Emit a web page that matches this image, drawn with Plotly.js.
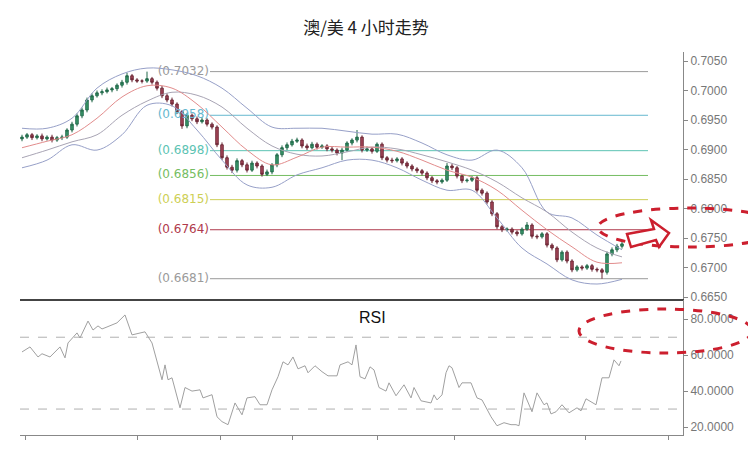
<!DOCTYPE html>
<html>
<head>
<meta charset="utf-8">
<script src="https://cdn.plot.ly/plotly-3.0.1.min.js"></script>
<style>html,body{margin:0;padding:0;background:#fff;}#chart{width:748px;height:449px;}</style>
</head>
<body>
<div id="chart"></div>
<script>
// ---------------- data ----------------
const titleText = "澳/美 4 小时走势";

const opens = [0.6918,0.6921,0.6925,0.6920,0.6923,0.6918,0.6921,0.6916,0.6920,0.6921,
 0.6933,0.6943,0.6957,0.6967,0.6984,0.6991,0.6996,0.6998,0.7001,0.7003,
 0.7009,0.7014,0.7025,0.7018,0.7016,0.7016,0.7020,0.7014,0.7004,0.6991,
 0.6984,0.6977,0.6964,0.6940,0.6958,0.6952,0.6947,0.6950,0.6943,0.6938,
 0.6908,0.6886,0.6870,0.6865,0.6881,0.6874,0.6865,0.6877,0.6872,0.6858,
 0.6862,0.6874,0.6891,0.6903,0.6908,0.6914,0.6916,0.6906,0.6903,0.6909,
 0.6904,0.6906,0.6901,0.6899,0.6894,0.6899,0.6911,0.6916,0.6921,0.6899,
 0.6901,0.6897,0.6909,0.6886,0.6882,0.6881,0.6884,0.6877,0.6872,0.6867,
 0.6864,0.6860,0.6852,0.6847,0.6845,0.6848,0.6872,0.6869,0.6855,0.6847,
 0.6848,0.6852,0.6831,0.6826,0.6811,0.6791,0.6769,0.6764,0.6765,0.6760,
 0.6757,0.6765,0.6772,0.6753,0.6752,0.6757,0.6738,0.6733,0.6713,0.6726,
 0.6711,0.6696,0.6701,0.6699,0.6703,0.6697,0.6696,0.6692,0.6723,0.6730,
 0.6736];
const highs = [0.6925,0.6928,0.6928,0.6926,0.6927,0.6924,0.6925,0.6923,0.6925,0.6936,
 0.6947,0.6961,0.6971,0.6988,0.6995,0.7000,0.7002,0.7005,0.7006,0.7012,
 0.7018,0.7030,0.7028,0.7021,0.7019,0.7032,0.7023,0.7017,0.7008,0.6995,
 0.6988,0.6980,0.6967,0.6962,0.6961,0.6956,0.6954,0.6953,0.6946,0.6941,
 0.6912,0.6890,0.6874,0.6885,0.6884,0.6878,0.6881,0.6880,0.6875,0.6866,
 0.6877,0.6894,0.6907,0.6912,0.6918,0.6920,0.6919,0.6910,0.6913,0.6912,
 0.6909,0.6909,0.6905,0.6902,0.6903,0.6914,0.6919,0.6933,0.6924,0.6905,
 0.6904,0.6912,0.6912,0.6889,0.6886,0.6887,0.6887,0.6880,0.6875,0.6870,
 0.6867,0.6863,0.6855,0.6850,0.6851,0.6877,0.6876,0.6872,0.6858,0.6851,
 0.6855,0.6855,0.6834,0.6829,0.6814,0.6794,0.6772,0.6768,0.6768,0.6763,
 0.6768,0.6777,0.6775,0.6756,0.6760,0.6760,0.6741,0.6736,0.6729,0.6729,
 0.6714,0.6704,0.6704,0.6706,0.6706,0.6700,0.6699,0.6727,0.6734,0.6740,
 0.6744];
const lows = [0.6914,0.6918,0.6916,0.6917,0.6914,0.6915,0.6912,0.6913,0.6916,0.6918,
 0.6929,0.6939,0.6953,0.6963,0.6980,0.6988,0.6992,0.6995,0.6997,0.6999,
 0.7005,0.7010,0.7014,0.7013,0.7012,0.7013,0.7010,0.7000,0.6987,0.6980,
 0.6973,0.6960,0.6935,0.6936,0.6948,0.6943,0.6944,0.6939,0.6934,0.6904,
 0.6882,0.6866,0.6860,0.6861,0.6870,0.6861,0.6862,0.6868,0.6854,0.6855,
 0.6858,0.6870,0.6887,0.6899,0.6905,0.6911,0.6902,0.6899,0.6900,0.6900,
 0.6901,0.6897,0.6895,0.6890,0.6882,0.6896,0.6907,0.6912,0.6895,0.6896,
 0.6893,0.6894,0.6882,0.6878,0.6877,0.6878,0.6873,0.6868,0.6863,0.6860,
 0.6856,0.6848,0.6843,0.6841,0.6842,0.6845,0.6865,0.6851,0.6843,0.6844,
 0.6845,0.6827,0.6822,0.6807,0.6787,0.6765,0.6760,0.6761,0.6756,0.6753,
 0.6754,0.6762,0.6749,0.6748,0.6749,0.6734,0.6729,0.6709,0.6710,0.6707,
 0.6692,0.6693,0.6695,0.6696,0.6693,0.6692,0.6681,0.6688,0.6719,0.6726,
 0.6732];
const closes = [0.6921,0.6925,0.6920,0.6923,0.6918,0.6921,0.6916,0.6920,0.6921,0.6933,
 0.6943,0.6957,0.6967,0.6984,0.6991,0.6996,0.6998,0.7001,0.7003,0.7009,
 0.7014,0.7025,0.7018,0.7016,0.7016,0.7020,0.7014,0.7004,0.6991,0.6984,
 0.6977,0.6964,0.6940,0.6958,0.6952,0.6947,0.6950,0.6943,0.6938,0.6908,
 0.6886,0.6870,0.6865,0.6881,0.6874,0.6865,0.6877,0.6872,0.6858,0.6862,
 0.6874,0.6891,0.6903,0.6908,0.6914,0.6916,0.6906,0.6903,0.6909,0.6904,
 0.6906,0.6901,0.6899,0.6894,0.6899,0.6911,0.6916,0.6921,0.6899,0.6901,
 0.6897,0.6909,0.6886,0.6882,0.6881,0.6884,0.6877,0.6872,0.6867,0.6864,
 0.6860,0.6852,0.6847,0.6845,0.6848,0.6872,0.6869,0.6855,0.6847,0.6848,
 0.6852,0.6831,0.6826,0.6811,0.6791,0.6769,0.6764,0.6765,0.6760,0.6757,
 0.6765,0.6772,0.6753,0.6752,0.6757,0.6738,0.6733,0.6713,0.6726,0.6711,
 0.6696,0.6701,0.6699,0.6703,0.6697,0.6696,0.6692,0.6723,0.6730,0.6736,
 0.6740];

// indicator lines, read at every 5th bar
const bandIdx   = [0,5,10,15,20,25,30,35,40,45,50,55,60,65,70,75,80,85,90,95,100,105,110,115,120];
const bandUpper = [0.6936,0.6936,0.6953,0.7004,0.7028,0.7038,0.7035,0.7025,0.7004,0.6970,0.6938,0.6936,0.6936,0.6931,0.6926,0.6926,0.6911,0.6891,0.6882,0.6899,0.6869,0.6794,0.6784,0.6755,0.6730];
const bandMid   = [0.6903,0.6914,0.6925,0.6953,0.6989,0.7008,0.7004,0.6977,0.6938,0.6899,0.6874,0.6887,0.6904,0.6904,0.6904,0.6897,0.6882,0.6865,0.6853,0.6831,0.6797,0.6764,0.6735,0.6709,0.6708];
const maSlow    = [0.6886,0.6899,0.6913,0.6925,0.6958,0.6982,0.6997,0.6992,0.6972,0.6936,0.6906,0.6892,0.6889,0.6896,0.6904,0.6901,0.6891,0.6879,0.6865,0.6845,0.6818,0.6794,0.6760,0.6733,0.6718];
const bandLower = [0.6869,0.6882,0.6908,0.6899,0.6925,0.6975,0.6974,0.6933,0.6882,0.6840,0.6836,0.6857,0.6869,0.6882,0.6882,0.6869,0.6848,0.6831,0.6831,0.6784,0.6733,0.6706,0.6679,0.6672,0.6680];

// Fibonacci levels
const fibLevels = [0.7032, 0.6958, 0.6898, 0.6856, 0.6815, 0.6764, 0.6681];
const fibLabels = ["(0.7032)", "(0.6958)", "(0.6898)", "(0.6856)", "(0.6815)", "(0.6764)", "(0.6681)"];
const fibColors = ["#9a9a9a", "#66b8cf", "#5cc3b3", "#74bd62", "#cdcf55", "#b03a4c", "#9a9a9a"];

// RSI
const rsiX = [0,1.6,3.2,4,5.6,6.6,7.6,8.6,9.2,11,11.6,13.2,14.2,15.2,16,17,19,20.6,22,24.6,26,28,28.6,29.2,30,31.6,32.6,34,35.6,36.2,38,39,40,41.2,42.6,44,45,46.6,47.6,49,50,51.2,52.2,53.2,54.2,55.2,56.6,57.2,58.6,60,61.2,63,63.6,65.2,66,66.8,67.6,68.6,69.6,70.4,71.4,72.8,73.4,74.8,76.4,77.8,78.4,79.8,81,81.8,82.4,83,84,84.8,85.4,86,87.4,88,89.8,90.4,91,92,93.8,95,96.4,97.8,98.8,99.4,100.4,102,103,104.4,105,105.8,106.8,108,109.4,111,111.8,112.8,114.8,116,117.4,118.4,119.4,119.8];
const rsiY = [61.8,64.6,59,60.8,59,61.8,64.6,58.5,66.8,72.4,69.6,79,74,76.3,74.6,75.7,78,82.4,71.3,73,66.8,46.3,54.6,46.3,47.4,30.7,42,40,40.7,36.2,38,25.7,23,21.3,33.4,26.8,36.2,36.9,32.4,32.4,40.7,48,56.3,54.6,59,52.4,54.1,50.2,54.1,50.8,48.5,48.5,54.6,56.3,54.6,65.7,48,46.8,53.5,51.8,42,40,44.6,37.4,43.5,36.2,42,34.6,34,33.4,37.9,35.1,37.9,50.2,54.1,53,42,44.6,44.6,40.7,36.2,35.1,25.7,20.7,22.4,21.3,21.3,20.7,39,28.5,39,32.4,33.4,27.3,28.5,32.4,27.9,30.7,29,35.7,32.4,47.4,47.4,57.4,54.1,56.8];
const rsiLevels = [30, 70];
const priceTicks = [0.6650, 0.6700, 0.6750, 0.6800, 0.6850, 0.6900, 0.6950, 0.7000, 0.7050];
const rsiTicks = [20, 40, 60, 80];
const timeTicks = [0.6, 23, 39.6, 54, 71, 86.4, 112.6, 129.2];

// ---------------- layout helpers ----------------
const W = 748, H = 449;
const L = 20, R = 683, T = 52, B = 435;
const px = x => (x - L) / (R - L);
const py = y => (B - y) / (B - T);
const bars = opens.map((_, i) => i);
const barAtPx = x => (x - 22) / 5;

const traces = [
  { type: 'scatter', mode: 'text', x: fibLevels.map(() => barAtPx(209)), y: fibLevels,
    text: fibLabels, textposition: 'middle left',
    textfont: { family: 'DejaVu Sans, sans-serif', size: 12, color: fibColors },
    hoverinfo: 'skip', showlegend: false, xaxis: 'x', yaxis: 'y' },
  { type: 'scatter', mode: 'lines', x: bandIdx, y: bandUpper, line: { color: '#97a0c8', width: 1, shape: 'spline', smoothing: 1 }, xaxis: 'x', yaxis: 'y', showlegend: false },
  { type: 'scatter', mode: 'lines', x: bandIdx, y: bandLower, line: { color: '#97a0c8', width: 1, shape: 'spline', smoothing: 1 }, xaxis: 'x', yaxis: 'y', showlegend: false },
  { type: 'scatter', mode: 'lines', x: bandIdx, y: maSlow, line: { color: '#a8a4b4', width: 1, shape: 'spline', smoothing: 1 }, xaxis: 'x', yaxis: 'y', showlegend: false },
  { type: 'scatter', mode: 'lines', x: bandIdx, y: bandMid, line: { color: '#e28c8c', width: 1, shape: 'spline', smoothing: 1 }, xaxis: 'x', yaxis: 'y', showlegend: false },
  { type: 'candlestick', x: bars, open: opens, high: highs, low: lows, close: closes,
    increasing: { line: { color: '#22694a', width: 1 }, fillcolor: '#3a9a6c' },
    decreasing: { line: { color: '#6a2634', width: 1 }, fillcolor: '#a8485a' },
    whiskerwidth: 0, xaxis: 'x', yaxis: 'y', showlegend: false },
  { type: 'scatter', mode: 'lines', x: rsiX, y: rsiY, line: { color: '#a0a0a0', width: 1 }, xaxis: 'x2', yaxis: 'y2', showlegend: false }
];

const shapes = [];
fibLevels.forEach((lv, i) => {
  shapes.push({ type: 'line', xref: 'paper', yref: 'y', x0: px(210), x1: px(648), y0: lv, y1: lv,
    line: { color: fibColors[i], width: 1 }, layer: 'below' });
});
rsiLevels.forEach(lv => {
  shapes.push({ type: 'line', xref: 'paper', yref: 'y2', x0: 0, x1: 1, y0: lv, y1: lv,
    line: { color: '#b0b0b0', width: 1, dash: 'dash' }, layer: 'below' });
});
const red = '#cc1f2e';
shapes.push({ type: 'circle', xref: 'paper', yref: 'paper', x0: px(598), x1: px(782), y0: py(208), y1: py(247),
  line: { color: red, width: 3, dash: 'dash' } });
shapes.push({ type: 'circle', xref: 'paper', yref: 'paper', x0: px(579), x1: px(752), y0: py(309), y1: py(353),
  line: { color: red, width: 3, dash: 'dash' } });
const arrowPts = [[627,234],[654,229],[651,220],[669,233],[659,247],[656,240],[631,247]];
shapes.push({ type: 'path', xref: 'paper', yref: 'paper',
  path: 'M ' + arrowPts.map(p => px(p[0]) + ',' + py(p[1])).join(' L ') + ' Z',
  line: { color: red, width: 2.5 }, fillcolor: '#ffffff' });

const axisCommon = { showgrid: false, zeroline: false };
const layout = {
  width: W, height: H,
  margin: { l: L, r: W - R, t: T, b: H - B, pad: 0 },
  paper_bgcolor: '#ffffff', plot_bgcolor: '#ffffff',
  font: { family: 'Liberation Sans, Arial, sans-serif', color: '#777' },
  showlegend: false,
  title: { text: titleText, x: 366 / W, xanchor: 'center', y: 1 - 28 / H, yanchor: 'middle',
    font: { family: 'Noto Sans CJK SC, sans-serif', size: 17, color: '#222' } },
  xaxis: Object.assign({}, axisCommon, { domain: [0, 1], anchor: 'y', range: [barAtPx(L), barAtPx(R)],
    showline: true, linecolor: '#444', linewidth: 1.5, showticklabels: false, ticks: '',
    rangeslider: { visible: false } }),
  xaxis2: Object.assign({}, axisCommon, { domain: [0, 1], anchor: 'y2', range: [barAtPx(L), barAtPx(R)],
    showline: true, linecolor: '#888', linewidth: 1, ticks: 'outside', ticklen: 4, tickcolor: '#888',
    tickvals: timeTicks, showticklabels: false }),
  yaxis: Object.assign({}, axisCommon, { domain: [py(299), 1], anchor: 'x', side: 'right',
    range: [0.6650 - 2 / 5900, 0.7050 + 9 / 5900], tickvals: priceTicks, tickformat: '.4f',
    showline: true, linecolor: '#888', ticks: 'outside', ticklen: 4, tickcolor: '#888',
    tickfont: { size: 12, color: '#777' } }),
  yaxis2: Object.assign({}, axisCommon, { domain: [0, py(300)], anchor: 'x2', side: 'right',
    range: [20 - 8 / 1.8, 80 + 19.3 / 1.8], tickvals: rsiTicks, tickformat: '.4f',
    showline: true, linecolor: '#888', ticks: 'outside', ticklen: 4, tickcolor: '#888',
    tickfont: { size: 12, color: '#777' } }),
  shapes: shapes,
  annotations: [
    { text: 'RSI', xref: 'paper', yref: 'paper', x: px(372), y: py(318), xanchor: 'center', yanchor: 'middle',
      showarrow: false, font: { family: 'Liberation Sans, Arial, sans-serif', size: 16, color: '#111' } }
  ]
};

Plotly.newPlot('chart', traces, layout, { staticPlot: true, displayModeBar: false });
</script>
</body>
</html>
